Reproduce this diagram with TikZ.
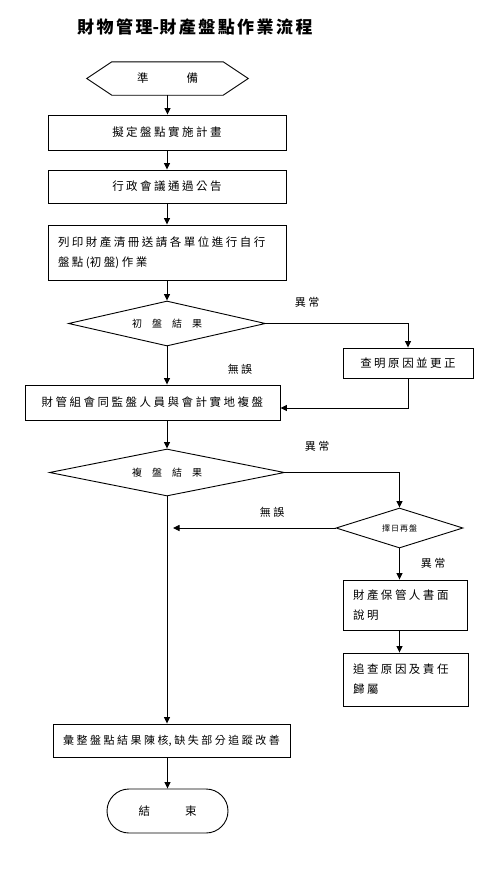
\documentclass[tikz,border=0pt]{standalone}
\usepackage{fontspec}
\setmainfont{Noto Sans CJK TC}
\usetikzlibrary{arrows.meta,shapes.geometric}
\XeTeXlinebreaklocale "zh"
\XeTeXlinebreakskip=2.5pt plus 0pt minus 0pt
\newcommand{\wide}[1]{\hspace*{#1}}
\begin{document}
\begin{tikzpicture}[x=1pt,y=-1pt,
  every node/.style={font=\fontsize{11.5}{20}\selectfont, inner sep=0pt},
  link/.style={draw, line width=0.9pt},
  box/.style={link, rectangle},
  dia/.style={link, diamond},
  tw/.style={text width=#1, align=center},
  arr/.style={link, -{Triangle[length=6.5pt,width=6pt]}},
  lbl/.style={font=\fontsize{11}{13}\selectfont, text width=40pt, align=center}
]
\useasboundingbox[fill=white] (0,0) rectangle (501,870);

\node[tw=320pt] (title) at (195,27) {\fontsize{17}{20}\selectfont\bfseries\XeTeXlinebreakskip=2.5pt 財物管理-財產盤點作業流程};

% start hexagon
\node (prep) [minimum width=161pt, minimum height=33pt] at (167.5,78.5) {準\wide{38pt}備};
\draw[link] (prep.west) -- ([xshift=25pt]prep.north west) -- ([xshift=-25pt]prep.north east) -- (prep.east) -- ([xshift=-25pt]prep.south east) -- ([xshift=25pt]prep.south west) -- cycle;

\node[box, minimum width=238pt, minimum height=35pt, tw=228pt] (b1) at (167,132.5) {擬定盤點實施計畫};
\node[box, minimum width=238pt, minimum height=33pt, tw=228pt] (b2) at (167,186.5) {行政會議通過公告};
\node[box, minimum width=238pt, minimum height=55pt, align=left, text width=218pt] (b3) at (167,252.5) {列印財產清冊送請各單位進行自行\\盤點{(}初盤{)}作業};

\node[dia, aspect=4.4, minimum width=197pt, minimum height=45pt] (d1) at (167,323.5) {\fontsize{10}{12}\selectfont 初\wide{10pt}盤\wide{10pt}結\wide{10pt}果};
\node[box, minimum width=130pt, minimum height=30pt, tw=120pt] (rb1) at (408,363) {查明原因並更正};
\node[box, minimum width=255pt, minimum height=35pt, tw=245pt] (b4) at (152.5,402.5) {財管組會同監盤人員與會計實地複盤};

\node[dia, aspect=5, minimum width=235pt, minimum height=47pt] (d2) at (167,472.5) {\fontsize{10}{12}\selectfont 複\wide{10pt}盤\wide{10pt}結\wide{10pt}果};
\node[dia, aspect=3.2, minimum width=127pt, minimum height=40pt] (d3) at (399.5,528) {\fontsize{8}{10}\selectfont 擇\wide{1pt}日\wide{1pt}再\wide{1pt}盤};
\coordinate (j) at (173,528);

\node[box, minimum width=124pt, minimum height=50pt, align=left, text width=104pt] (rb2) at (405,605) {財產保管人書面\\說明};
\node[box, minimum width=125pt, minimum height=53pt, align=left, text width=105pt] (rb3) at (405.5,679.5) {追查原因及責任\\歸屬};

\node[box, minimum width=237pt, minimum height=33pt, tw=230pt] (fin) at (171.5,740.5) {\fontsize{11}{13}\selectfont\XeTeXlinebreakskip=2.5pt 彙整盤點結果陳核,缺失部分追蹤改善};
\node[box, minimum width=121pt, minimum height=44pt, rounded corners=22pt] (end) at (167.5,811) {結\wide{35pt}束};

% labels
\node[lbl] (l1) at (307,302) {異常};
\node[lbl] (l2) at (240,369) {無誤};
\node[lbl] (l3) at (317,446) {異常};
\node[lbl] (l4) at (272,512) {無誤};
\node[lbl] (l5) at (433,563) {異常};

% connectors
\draw[arr] (prep.south) -- (prep.south |- b1.north);
\draw[arr] (b1.south) -- (b2.north);
\draw[arr] (b2.south) -- (b3.north);
\draw[arr] (b3.south) -- (d1.north);
\draw[arr] (d1.south) -- (d1.south |- b4.north);
\draw[arr] (d1.east) -| (rb1.north);
\draw[arr] (rb1.south) |- ([yshift=-5.5pt]b4.east);
\draw[arr] (d2.north |- b4.south) -- (d2.north);
\draw[arr] (d2.east) -| (d3.north);
\draw[arr] (d3.west) -- (j);
\draw[arr] (d2.south) -- (d2.south |- fin.north);
\draw[arr] (d3.south) -- (d3.south |- rb2.north);
\draw[arr] (rb2.south -| d3.south) -- (d3.south |- rb3.north);
\draw[arr] (end.north |- fin.south) -- (end.north);
\end{tikzpicture}
\end{document}
